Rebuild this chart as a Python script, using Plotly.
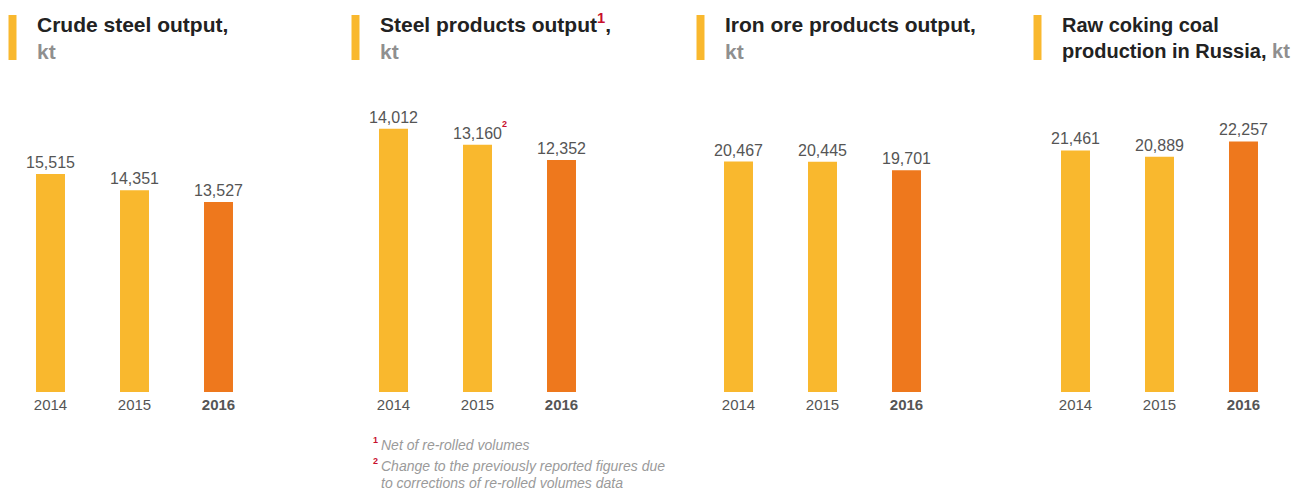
import plotly.graph_objects as go

years = ["2014", "2015", "2016"]
year_labels = ["2014", "2015", "<b>2016</b>"]
crude_steel = [15515, 14351, 13527]
steel_products = [14012, 13160, 12352]
iron_ore = [20467, 20445, 19701]
coking_coal = [21461, 20889, 22257]

titles = [
    "<b>Crude steel output,<br><span style='color:#8f8f8f'>kt</span></b>",
    "<b>Steel products output<sup><span style='color:#c8102e'>1</span></sup>,<br><span style='color:#8f8f8f'>kt</span></b>",
    "<b>Iron ore products output,<br><span style='color:#8f8f8f'>kt</span></b>",
    "<b>Raw coking coal<br>production in Russia, <span style='color:#8f8f8f'>kt</span></b>",
]
title_sizes = [21, 21, 21, 20]
title_tops = [11, 8, 11, 12]
footnotes = [
    "Net of re-rolled volumes",
    "Change to the previously reported figures due",
    "to corrections of re-rolled volumes data",
]

YELLOW = "#F9B82E"
ORANGE = "#EE781D"
colors = [YELLOW, YELLOW, ORANGE]
FONT = "Liberation Sans, Arial, sans-serif"

# page has an 8px body margin: work in page pixels and convert
OFF = 8
W, H = 1300 - OFF, 490 - OFF
TOP, BOTTOM = 92, 392          # plot area in page pixels
PH = BOTTOM - TOP

series = [crude_steel, steel_products, iron_ore, coking_coal]
ranges = [21350, 15970, 26650, 26650]
domains_px = [(8.5, 260.5), (351.5, 603.5), (696.5, 948.5), (1033.5, 1285.5)]

def px(p):
    return (p - OFF) / W

def py(p):
    return (BOTTOM - p) / PH

fig = go.Figure()
annotations = []
shapes = []
layout = {}
for i, vals in enumerate(series):
    n = "" if i == 0 else str(i + 1)
    xa, ya = "x" + n, "y" + n
    fig.add_trace(go.Bar(x=years, y=vals, marker=dict(color=colors, line=dict(width=0)),
                         xaxis=xa, yaxis=ya, hoverinfo="x+y", showlegend=False))
    d0, d1 = domains_px[i]
    layout["xaxis" + n] = dict(domain=[px(d0), px(d1)], type="category", range=[-0.5, 2.5],
                               tickvals=years, ticktext=year_labels, automargin=False,
                               tickfont=dict(size=15, color="#555555", family=FONT),
                               ticklabelstandoff=2,
                               showgrid=False, zeroline=False, showline=False, ticks="",
                               anchor=ya, fixedrange=True)
    layout["yaxis" + n] = dict(domain=[0, 1], range=[0, ranges[i]], visible=False,
                               anchor=xa, fixedrange=True, automargin=False)
    for j, v in enumerate(vals):
        annotations.append(dict(x=j, y=v, xref=xa, yref=ya, text=f"{v:,}",
                                showarrow=False, yanchor="bottom", xanchor="center", yshift=1,
                                font=dict(size=16, color="#555555", family=FONT)))
        shapes.append(dict(type="line", xref=xa, yref=ya, x0=j - 0.173, x1=j + 0.173,
                           y0=-1.2, y1=-1.2, ysizemode="pixel", yanchor=0,
                           line=dict(color="#b0b0b0", width=1.5)))
    # title accent bar
    shapes.append(dict(type="rect", xref="paper", yref="paper",
                       x0=px(d0), x1=px(d0 + 8), y0=py(60), y1=py(15),
                       fillcolor=YELLOW, line=dict(width=0)))
    annotations.append(dict(x=px(d0 + 26.5), y=py(title_tops[i]), xref="paper", yref="paper",
                            text=titles[i], showarrow=False, xanchor="left", yanchor="top",
                            align="left",
                            font=dict(size=title_sizes[i], color="#222222", family=FONT)))

# superscript 2 next to 13,160
annotations.append(dict(x=1, y=steel_products[1], xref="x2", yref="y2", text="<b>2</b>",
                        showarrow=False, xanchor="left", yanchor="bottom", xshift=22, yshift=14,
                        font=dict(size=9, color="#c8102e", family=FONT)))

# footnotes
fn_font = dict(size=14, color="#9a9a9a", family=FONT)
for t, ypix in zip(footnotes, [445, 466, 483]):
    annotations.append(dict(x=px(380), y=py(ypix), xref="paper", yref="paper",
                            text=f"<i>{t}</i>", showarrow=False, xanchor="left", yanchor="middle",
                            borderpad=0, font=fn_font))
for lab, ypix in [("1", 440), ("2", 461)]:
    annotations.append(dict(x=px(371), y=py(ypix), xref="paper", yref="paper",
                            text=f"<b>{lab}</b>", showarrow=False, xanchor="left", yanchor="middle",
                            font=dict(size=9, color="#c8102e", family=FONT)))

fig.update_layout(width=W, height=H,
                  margin=dict(l=0, r=0, t=TOP - OFF, b=(490 - BOTTOM), autoexpand=False),
                  paper_bgcolor="white", plot_bgcolor="white", bargap=0.655,
                  annotations=annotations, shapes=shapes, **layout)
fig.write_html("out.html")
